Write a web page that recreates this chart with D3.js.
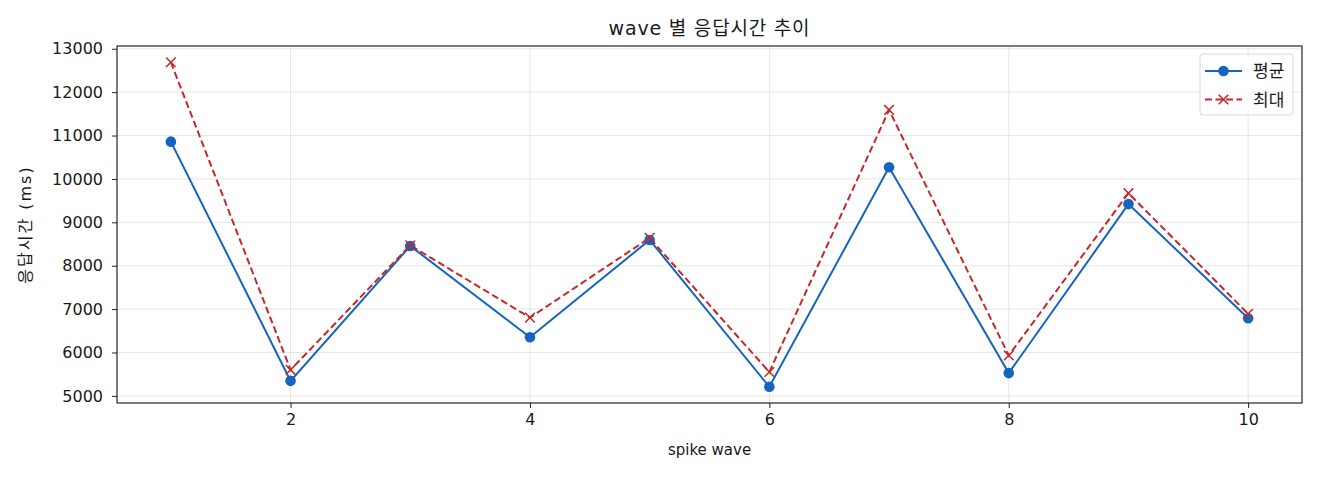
<!DOCTYPE html>
<html><head><meta charset="utf-8">
<script src="https://cdn.jsdelivr.net/npm/d3@7"></script>
<style>
body{margin:0;background:#fff;}
text{font-family:"DejaVu Sans","Noto Sans CJK KR",sans-serif;fill:#1a1a1a;}
</style></head>
<body>
<svg id="c" width="1320" height="480"></svg>
<script>
const waves = [1,2,3,4,5,6,7,8,9,10];
const avgValues = [10860,5346,8455,6352,8594,5210,10270,5525,9420,6790];
const maxValues = [12690,5600,8470,6804,8640,5550,11590,5930,9672,6892];
const xTicks = [2,4,6,8,10];
const yTicks = [5000,6000,7000,8000,9000,10000,11000,12000,13000];
const seriesNames = ["평균","최대"];
const title = "wave 별 응답시간 추이";
const xLabel = "spike wave";
const yLabel = "응답시간 (ms)";

const svg = d3.select("#c");
const L=117, R=1302, T=46, B=403;
const allV = avgValues.concat(maxValues);
const vmin=d3.min(allV), vmax=d3.max(allV), vr=vmax-vmin;
const x = d3.scaleLinear().domain([0.55,10.45]).range([L,R]);
const y = d3.scaleLinear().domain([vmin-0.05*vr, vmax+0.05*vr]).range([B,T]);

// grid
const g = svg.append("g");
g.selectAll(".gx").data(xTicks).enter().append("line")
 .attr("x1",d=>x(d)).attr("x2",d=>x(d)).attr("y1",T).attr("y2",B)
 .attr("stroke","#b0b0b0").attr("stroke-opacity",0.3).attr("stroke-width",1);
g.selectAll(".gy").data(yTicks).enter().append("line")
 .attr("x1",L).attr("x2",R).attr("y1",d=>y(d)).attr("y2",d=>y(d))
 .attr("stroke","#b0b0b0").attr("stroke-opacity",0.3).attr("stroke-width",1);

// axes
const xa = svg.append("g").attr("transform",`translate(0,${B})`)
 .call(d3.axisBottom(x).tickValues(xTicks).tickFormat(d3.format("d")).tickSize(5).tickPadding(6));
const ya = svg.append("g").attr("transform",`translate(${L},0)`)
 .call(d3.axisLeft(y).tickValues(yTicks).tickFormat(d3.format("d")).tickSize(5).tickPadding(9));
[xa,ya].forEach(a=>{a.select(".domain").remove();
 a.selectAll("text").style("font-size","16px").attr("fill","#1a1a1a");
 a.selectAll("line").attr("stroke","#222");});

// frame
svg.append("rect").attr("x",L).attr("y",T).attr("width",R-L).attr("height",B-T)
 .attr("fill","none").attr("stroke","#111").attr("stroke-width",1.1);

const plot = svg.append("g");
const line = d3.line().x((d,i)=>x(waves[i])).y(d=>y(d));
const blue="#1565c0", red="#c62828";
plot.append("path").datum(avgValues).attr("d",line).attr("fill","none")
 .attr("stroke",blue).attr("stroke-width",2);
plot.append("path").datum(maxValues).attr("d",line).attr("fill","none")
 .attr("stroke",red).attr("stroke-width",2).attr("stroke-dasharray","7,3.5");
plot.selectAll(".dot").data(avgValues).enter().append("circle")
 .attr("cx",(d,i)=>x(waves[i])).attr("cy",d=>y(d)).attr("r",5.3).attr("fill",blue);
const xm = (cx,cy,s)=>`M${cx-s},${cy-s}L${cx+s},${cy+s}M${cx-s},${cy+s}L${cx+s},${cy-s}`;
plot.selectAll(".xm").data(maxValues).enter().append("path")
 .attr("d",(d,i)=>xm(x(waves[i]),y(d),4.8)).attr("stroke",red).attr("stroke-width",1.5).attr("fill","none");

// title & labels
svg.append("text").attr("x",(L+R)/2).attr("y",35).attr("text-anchor","middle")
 .style("font-size","19px").style("letter-spacing","0.8px").text(title);
svg.append("text").attr("x",(L+R)/2).attr("y",455).attr("text-anchor","middle")
 .style("font-size","15px").text(xLabel);
svg.append("text").attr("transform",`translate(31,${(T+B)/2}) rotate(-90)`).attr("text-anchor","middle")
 .style("font-size","16px").style("letter-spacing","2px").text(yLabel);

// legend
const lg = svg.append("g");
lg.append("rect").attr("x",1200).attr("y",54).attr("width",93).attr("height",61).attr("rx",3)
 .attr("fill","#fff").attr("fill-opacity",0.8).attr("stroke","#d8d8d8");
const items=[{n:seriesNames[0],c:blue,dash:null,m:"o"},{n:seriesNames[1],c:red,dash:"7,3.5",m:"x"}];
items.forEach((it,i)=>{
 const yy = 71+ i*28.5;
 lg.append("line").attr("x1",1205).attr("x2",1242).attr("y1",yy).attr("y2",yy)
  .attr("stroke",it.c).attr("stroke-width",2).attr("stroke-dasharray",it.dash);
 if(it.m==="o") lg.append("circle").attr("cx",1223.5).attr("cy",yy).attr("r",5.3).attr("fill",it.c);
 else lg.append("path").attr("d",xm(1223.5,yy,4.8)).attr("stroke",it.c).attr("stroke-width",1.5);
 lg.append("text").attr("x",1253).attr("y",yy+6).style("font-size","17px").text(it.n);
});
</script>
</body></html>
